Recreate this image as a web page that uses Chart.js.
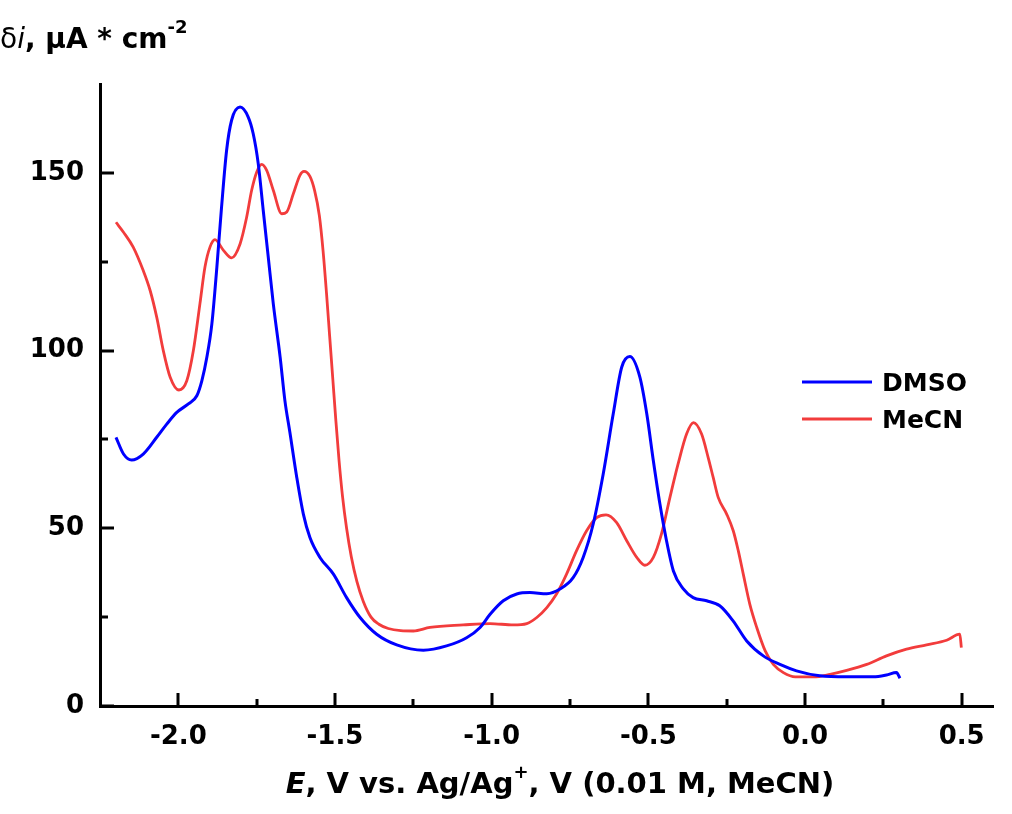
<!DOCTYPE html>
<html>
<head>
<meta charset="utf-8">
<title>Differential current vs potential</title>
<script src="https://cdn.jsdelivr.net/npm/chart.js@4.4.0/dist/chart.umd.min.js"></script>
<style>
  html, body { margin: 0; padding: 0; background: #fff; }
  #wrap { width: 1012px; height: 814px; }
</style>
</head>
<body>
<div id="wrap"><canvas id="plot" width="1012" height="814"></canvas></div>
<script>
// --- data ---
const dmsoE = [-2.199, -2.175, -2.149, -2.112, -2.069, -2.037, -2.005, -1.968, -1.941, -1.925,
  -1.909, -1.893, -1.877, -1.862, -1.846, -1.830, -1.803, -1.777, -1.761, -1.745,
  -1.729, -1.713, -1.697, -1.675, -1.660, -1.644, -1.622, -1.601, -1.580, -1.548,
  -1.505, -1.463, -1.420, -1.367, -1.303, -1.218, -1.144, -1.080, -1.037, -1.005,
  -0.963, -0.920, -0.878, -0.824, -0.782, -0.740, -0.708, -0.676, -0.644, -0.612,
  -0.585, -0.559, -0.527, -0.505, -0.484, -0.463, -0.442, -0.420, -0.389, -0.357,
  -0.314, -0.272, -0.229, -0.186, -0.133, -0.080, -0.027, 0.047, 0.133, 0.218,
  0.260, 0.292, 0.303];
const dmsoI = [75.6, 70.9, 69.2, 70.9, 75.6, 79.3, 82.6, 85.0, 87.3, 91.5,
  98.1, 107.5, 123.5, 140.4, 156.3, 164.8, 168.5, 165.7, 161.0, 152.6,
  139.4, 126.3, 113.2, 98.1, 86.0, 77.0, 64.3, 54.0, 47.4, 41.8,
  37.1, 30.5, 24.9, 20.2, 17.2, 15.7, 16.9, 19.2, 22.1, 25.8,
  29.6, 31.5, 31.9, 31.6, 32.9, 36.1, 41.8, 51.2, 65.3, 82.2,
  95.3, 98.3, 92.5, 82.2, 69.0, 56.8, 46.5, 38.0, 33.0, 30.5,
  29.6, 28.2, 23.9, 18.3, 14.1, 11.7, 9.9, 8.5, 8.2, 8.2,
  8.7, 9.4, 7.8];

const mecnE = [-2.199, -2.175, -2.144, -2.112, -2.090, -2.069, -2.048, -2.026, -1.998, -1.973,
  -1.952, -1.931, -1.915, -1.899, -1.883, -1.856, -1.830, -1.803, -1.782, -1.766,
  -1.750, -1.734, -1.718, -1.697, -1.670, -1.654, -1.633, -1.612, -1.599, -1.580,
  -1.565, -1.550, -1.538, -1.527, -1.517, -1.507, -1.497, -1.487, -1.476, -1.463,
  -1.448, -1.430, -1.410, -1.385, -1.360, -1.330, -1.290, -1.250, -1.197, -1.091,
  -1.005, -0.931, -0.888, -0.856, -0.824, -0.793, -0.761, -0.729, -0.697, -0.665,
  -0.635, -0.601, -0.569, -0.537, -0.511, -0.484, -0.458, -0.431, -0.405, -0.378,
  -0.356, -0.330, -0.309, -0.293, -0.277, -0.250, -0.229, -0.213, -0.197, -0.176,
  -0.154, -0.127, -0.101, -0.069, -0.031, 0.027, 0.080, 0.133, 0.197, 0.260,
  0.324, 0.388, 0.452, 0.494, 0.499];
const mecnI = [136.1, 133.3, 129.1, 122.5, 116.9, 109.4, 100.0, 92.5, 88.9, 91.5,
  100.0, 113.2, 123.5, 129.1, 131.2, 128.2, 126.1, 130.0, 137.5, 145.1,
  150.2, 152.4, 150.7, 145.1, 138.5, 139.0, 144.1, 149.3, 150.4, 149.0,
  145.0, 138.0, 128.0, 116.0, 104.0, 92.0, 80.0, 69.0, 59.0, 50.0,
  42.0, 35.0, 29.5, 25.0, 23.0, 21.8, 21.2, 21.1, 22.1, 22.8,
  23.2, 22.8, 23.2, 24.9, 27.7, 31.5, 37.1, 43.7, 49.3, 53.0,
  53.8, 51.6, 46.5, 41.8, 39.6, 41.8, 48.4, 58.7, 68.1, 76.5,
  79.7, 76.5, 69.9, 64.3, 58.7, 54.0, 49.3, 43.7, 37.1, 28.6,
  22.1, 15.5, 11.7, 9.4, 8.2, 8.2, 8.9, 10.0, 11.7, 14.1,
  16.0, 17.2, 18.5, 20.2, 16.4];

const seriesNames = ['DMSO', 'MeCN'];
const seriesColors = ['#0000ff', '#f23c3c'];
const xTicks = [-2.0, -1.5, -1.0, -0.5, 0.0, 0.5];
const xMinorTicks = [-1.75, -1.25, -0.75, -0.25, 0.25];
const yTicks = [0, 50, 100, 150];
const yMinorTicks = [25, 75, 125];

const toPoints = (xs, ys) => xs.map((x, i) => ({ x: x, y: ys[i] }));

const FONT = "'DejaVu Sans', Arial, sans-serif";

// inward tick marks, axis titles and legend
const decorations = {
    id: 'decorations',
    afterDraw(chart) {
        const ctx = chart.ctx;
        const xs = chart.scales.x;
        const ys = chart.scales.y;
        const left = xs.left;
        const bottom = ys.bottom;

        ctx.save();
        ctx.fillStyle = '#000';
        xTicks.forEach(v => {
            const p = Math.round(xs.getPixelForValue(v));
            ctx.fillRect(p - 1.5, bottom - 13, 3, 13);
        });
        xMinorTicks.forEach(v => {
            const p = Math.round(xs.getPixelForValue(v));
            ctx.fillRect(p - 1.5, bottom - 7, 3, 7);
        });
        yTicks.forEach(v => {
            const p = Math.round(ys.getPixelForValue(v));
            ctx.fillRect(left, p - 1.5, 14, 3);
        });
        yMinorTicks.forEach(v => {
            const p = Math.round(ys.getPixelForValue(v));
            ctx.fillRect(left, p - 1.5, 8, 3);
        });

        ctx.textBaseline = 'alphabetic';
        ctx.textAlign = 'left';

        // y title
        let x = 0;
        const yb = 48;
        ctx.font = "28px " + FONT;
        ctx.fillText('\u03B4', x, yb); x += ctx.measureText('\u03B4').width;
        ctx.font = "italic 28px " + FONT;
        ctx.fillText('i', x, yb); x += ctx.measureText('i').width;
        ctx.font = "bold 28px " + FONT;
        ctx.fillText(', \u03BCA * cm', x, yb); x += ctx.measureText(', \u03BCA * cm').width;
        ctx.font = "bold 18px " + FONT;
        ctx.fillText('-2', x, yb - 15);

        // x title
        const parts = [
            { t: 'E', f: "italic bold 29px " + FONT, dy: 0 },
            { t: ', V vs. Ag/Ag', f: "bold 29px " + FONT, dy: 0 },
            { t: '+', f: "bold 18px " + FONT, dy: -15 },
            { t: ', V (0.01 M, MeCN)', f: "bold 29px " + FONT, dy: 0 }
        ];
        let total = 0;
        parts.forEach(p => { ctx.font = p.f; p.w = ctx.measureText(p.t).width; total += p.w; });
        x = 560 - total / 2;
        parts.forEach(p => { ctx.font = p.f; ctx.fillText(p.t, x, 793 + p.dy); x += p.w; });

        // legend
        const legY = [382, 419];
        ctx.font = "bold 25px " + FONT;
        seriesNames.forEach((name, i) => {
            ctx.fillStyle = seriesColors[i];
            ctx.fillRect(802, legY[i] - 1.5, 70, 3);
            ctx.fillStyle = '#000';
            ctx.fillText(name, 882, legY[i] + 9);
        });
        ctx.restore();
    }
};

const chart = new Chart(document.getElementById('plot').getContext('2d'), {
    type: 'scatter',
    data: {
        datasets: [
            {
                label: seriesNames[0],
                data: toPoints(dmsoE, dmsoI),
                borderColor: seriesColors[0],
                borderWidth: 3,
                showLine: true,
                pointRadius: 0,
                cubicInterpolationMode: 'monotone'
            },
            {
                label: seriesNames[1],
                data: toPoints(mecnE, mecnI),
                borderColor: seriesColors[1],
                borderWidth: 2.8,
                showLine: true,
                pointRadius: 0,
                cubicInterpolationMode: 'monotone'
            }
        ]
    },
    options: {
        responsive: false,
        animation: false,
        layout: { padding: { left: 0, top: 84, right: 19, bottom: 0 } },
        plugins: { legend: { display: false }, tooltip: { enabled: false } },
        scales: {
            x: {
                type: 'linear',
                min: -2.25,
                max: 0.6,
                afterBuildTicks: s => { s.ticks = xTicks.map(v => ({ value: v })); },
                afterFit: s => { s.height = 108; },
                grid: { drawOnChartArea: false, drawTicks: false },
                border: { display: true, color: '#000', width: 3 },
                ticks: {
                    padding: 16,
                    color: '#000',
                    font: { family: FONT, weight: 'bold', size: 26 },
                    callback: v => v.toFixed(1)
                }
            },
            y: {
                type: 'linear',
                min: 0,
                max: 175,
                afterBuildTicks: s => { s.ticks = yTicks.map(v => ({ value: v })); },
                afterFit: s => { s.width = 100; },
                grid: { drawOnChartArea: false, drawTicks: false },
                border: { display: true, color: '#000', width: 3 },
                ticks: {
                    padding: 16,
                    color: '#000',
                    font: { family: FONT, weight: 'bold', size: 26 },
                    callback: v => String(v)
                }
            }
        }
    },
    plugins: [decorations]
});
</script>
</body>
</html>
